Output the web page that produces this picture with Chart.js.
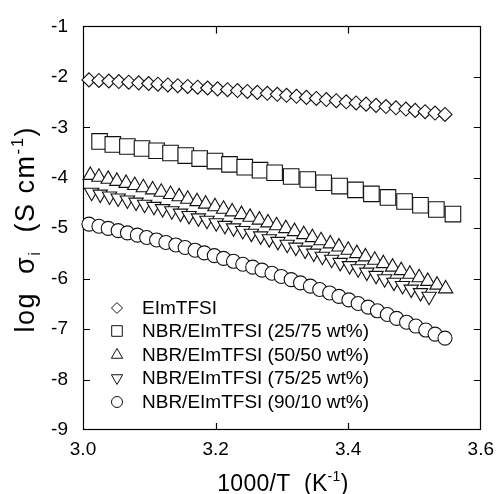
<!DOCTYPE html>
<html><head><meta charset="utf-8">
<script src="https://cdn.jsdelivr.net/npm/chart.js@4.4.0/dist/chart.umd.min.js"></script>
<style>html,body{margin:0;padding:0;background:#fff;}#wrap{width:502px;height:494px;}</style>
</head><body><div id="wrap"><canvas id="c" width="502" height="494" style="width:502px;height:494px"></canvas></div>
<script>
const seriesNames = ['EImTFSI','NBR/EImTFSI (25/75 wt%)','NBR/EImTFSI (50/50 wt%)','NBR/EImTFSI (75/25 wt%)','NBR/EImTFSI (90/10 wt%)'];
const xTickValues = [3.0, 3.2, 3.4, 3.6];
const yTickValues = [-9, -8, -7, -6, -5, -4, -3, -2, -1];

const xEImTFSI = [3.009,3.024,3.039,3.054,3.069,3.084,3.099,3.113,3.128,3.143,3.158,3.173,3.188,3.203,3.218,3.233,3.248,3.263,3.278,3.293,3.307,3.322,3.337,3.352,3.367,3.382,3.397,3.412,3.427,3.442,3.457,3.472,3.487,3.501,3.516,3.531,3.546];
const yEImTFSI = [-2.060,-2.071,-2.082,-2.094,-2.106,-2.119,-2.132,-2.146,-2.160,-2.175,-2.190,-2.205,-2.221,-2.238,-2.255,-2.272,-2.290,-2.308,-2.327,-2.346,-2.366,-2.386,-2.407,-2.428,-2.450,-2.472,-2.494,-2.517,-2.541,-2.565,-2.589,-2.614,-2.639,-2.665,-2.691,-2.718,-2.745];

const x2575 = [3.025,3.045,3.067,3.089,3.111,3.132,3.155,3.176,3.199,3.221,3.244,3.267,3.289,3.314,3.339,3.363,3.387,3.411,3.435,3.460,3.485,3.509,3.533,3.558];
const y2575 = [-3.28,-3.34,-3.38,-3.42,-3.465,-3.51,-3.56,-3.62,-3.67,-3.735,-3.79,-3.85,-3.90,-3.975,-4.035,-4.10,-4.165,-4.24,-4.32,-4.39,-4.47,-4.545,-4.63,-4.72];

const x5050 = [3.011,3.024,3.038,3.051,3.065,3.078,3.091,3.105,3.118,3.132,3.145,3.158,3.172,3.185,3.199,3.212,3.225,3.239,3.252,3.266,3.279,3.292,3.306,3.319,3.333,3.346,3.359,3.373,3.386,3.400,3.413,3.426,3.440,3.453,3.467,3.480,3.493,3.507,3.520,3.534,3.547];
const y5050 = [-3.950,-3.988,-4.028,-4.068,-4.109,-4.151,-4.194,-4.238,-4.283,-4.328,-4.375,-4.422,-4.471,-4.520,-4.571,-4.622,-4.674,-4.727,-4.781,-4.836,-4.892,-4.948,-5.006,-5.064,-5.124,-5.184,-5.246,-5.308,-5.371,-5.435,-5.500,-5.566,-5.632,-5.700,-5.769,-5.838,-5.909,-5.980,-6.052,-6.126,-6.200];

const x7525 = [3.013,3.026,3.040,3.053,3.067,3.080,3.093,3.107,3.120,3.134,3.147,3.160,3.174,3.187,3.201,3.214,3.227,3.241,3.254,3.268,3.281,3.294,3.308,3.321,3.335,3.348,3.361,3.375,3.388,3.402,3.415,3.428,3.442,3.455,3.469,3.482,3.495,3.509,3.522];
const y7525 = [-4.290,-4.327,-4.366,-4.405,-4.445,-4.486,-4.528,-4.570,-4.614,-4.658,-4.704,-4.750,-4.798,-4.846,-4.896,-4.946,-4.997,-5.049,-5.102,-5.156,-5.211,-5.265,-5.322,-5.379,-5.438,-5.497,-5.558,-5.619,-5.681,-5.744,-5.808,-5.873,-5.938,-6.005,-6.073,-6.140,-6.210,-6.280,-6.351];

const x9010 = [3.009,3.024,3.038,3.053,3.067,3.082,3.096,3.111,3.125,3.140,3.154,3.169,3.183,3.198,3.212,3.227,3.241,3.256,3.270,3.285,3.299,3.314,3.328,3.343,3.357,3.372,3.386,3.401,3.415,3.430,3.444,3.459,3.473,3.488,3.502,3.517,3.531,3.546];
const y9010 = [-4.920,-4.961,-5.004,-5.048,-5.092,-5.138,-5.185,-5.233,-5.282,-5.332,-5.383,-5.436,-5.489,-5.543,-5.599,-5.656,-5.714,-5.772,-5.832,-5.893,-5.956,-6.019,-6.083,-6.149,-6.215,-6.283,-6.351,-6.421,-6.492,-6.564,-6.637,-6.711,-6.787,-6.863,-6.940,-7.019,-7.099,-7.179];

const FONT = "'Liberation Sans', Arial, Helvetica, sans-serif";
Chart.defaults.font.family = FONT;
Chart.defaults.color = '#000';

function pts(xs, ys){ return xs.map((x,i)=>({x:x, y:ys[i]})); }

const markerDefs = [
  {style:'rectRot', rot:0, r:7, lr:5.5},
  {style:'rect', rot:0, r:11, lr:7.5},
  {style:'triangle', rot:0, r:8.3, lr:6.5},
  {style:'triangle', rot:180, r:8.3, lr:6.5},
  {style:'circle', rot:0, r:7, lr:5.5}
];
const dataX = [xEImTFSI, x2575, x5050, x7525, x9010];
const dataY = [yEImTFSI, y2575, y5050, y7525, y9010];

const datasets = seriesNames.map((name, i) => ({
  label: name,
  data: pts(dataX[i], dataY[i]),
  showLine: false,
  pointStyle: markerDefs[i].style,
  pointRotation: markerDefs[i].rot,
  pointRadius: markerDefs[i].r,
  pointHoverRadius: markerDefs[i].r,
  pointBackgroundColor: '#fff',
  pointBorderColor: '#111',
  pointBorderWidth: 1.1,
  clip: false
}));

function drawRich(ctx, parts, cx, baseY, spacing) {
  let total = 0;
  ctx.letterSpacing = (spacing || 0) + 'px';
  parts.forEach(p => { ctx.font = p.size + 'px ' + FONT; p.w = ctx.measureText(p.t).width; total += p.w; });
  let x = cx - total / 2;
  ctx.textAlign = 'left'; ctx.textBaseline = 'alphabetic';
  parts.forEach(p => { ctx.font = p.size + 'px ' + FONT; ctx.fillText(p.t, x, baseY + (p.dy || 0)); x += p.w; });
  ctx.letterSpacing = '0px';
}

const framePlugin = {
  id: 'frame',
  beforeDatasetsDraw(chart) {
    const ctx = chart.ctx, a = chart.chartArea;
    const xs = chart.scales.x, ys = chart.scales.y;
    ctx.save();
    ctx.strokeStyle = '#000'; ctx.lineWidth = 1.2;
    ctx.strokeRect(Math.round(a.left) + 0.5, Math.round(a.top) + 0.5, Math.round(a.right - a.left) - 1, Math.round(a.bottom - a.top) - 1);
    ctx.beginPath();
    const tl = 7;
    yTickValues.forEach(v => {
      if (v === -9 || v === -1) return;
      const py = Math.round(ys.getPixelForValue(v)) + 0.5;
      ctx.moveTo(a.left, py); ctx.lineTo(a.left + tl, py);
      ctx.moveTo(a.right - tl, py); ctx.lineTo(a.right, py);
    });
    xTickValues.forEach(v => {
      if (v === 3.0 || v === 3.6) return;
      const px = Math.round(xs.getPixelForValue(v)) + 0.5;
      ctx.moveTo(px, a.bottom); ctx.lineTo(px, a.bottom - tl);
      ctx.moveTo(px, a.top); ctx.lineTo(px, a.top + tl);
    });
    ctx.stroke();
    ctx.restore();
  },
  afterDraw(chart) {
    const ctx = chart.ctx, a = chart.chartArea;
    ctx.save();
    ctx.fillStyle = '#000';
    // x title
    drawRich(ctx, [
      {t:'1000/T  (K', size:23},
      {t:'-1', size:14, dy:-10},
      {t:')', size:23}
    ], (a.left + a.right) / 2 + 1, 491, 0.3);
    // y title
    ctx.save();
    ctx.translate(34, (a.top + a.bottom) / 2 + 1);
    ctx.rotate(-Math.PI / 2);
    drawRich(ctx, [
      {t:'log  \u03C3', size:27},
      {t:'i', size:17, dy:6},
      {t:'  (S cm', size:27},
      {t:'-1', size:17, dy:-11},
      {t:')', size:27}
    ], 0, 0, 1.5);
    ctx.restore();
    // legend
    const H = Chart.helpers;
    const rowsY = [308, 331, 355, 378, 402];
    seriesNames.forEach((name, i) => {
      const m = markerDefs[i];
      ctx.save();
      ctx.fillStyle = '#fff'; ctx.strokeStyle = '#111'; ctx.lineWidth = 1;
      H.drawPoint(ctx, {pointStyle: m.style, rotation: m.rot, radius: m.lr, borderWidth: 1}, 117, rowsY[i]);
      ctx.restore();
      ctx.font = '19px ' + FONT;
      ctx.textAlign = 'left'; ctx.textBaseline = 'middle';
      ctx.fillStyle = '#000';
      ctx.fillText(name, 142, rowsY[i] + 1);
    });
    ctx.restore();
  }
};

new Chart(document.getElementById('c'), {
  type: 'scatter',
  data: { datasets },
  options: {
    responsive: false,
    animation: false,
    events: [],
    layout: { padding: { top: 22, right: 17, left: 0, bottom: 0 } },
    plugins: { legend: { display: false }, tooltip: { enabled: false } },
    scales: {
      x: {
        type: 'linear', min: 3.0, max: 3.6,
        afterBuildTicks: s => { s.ticks = xTickValues.map(v => ({value: v})); },
        ticks: { font: { size: 19 }, color: '#000', padding: 8, maxRotation: 0, callback: v => Number(v).toFixed(1) },
        grid: { display: false, drawTicks: false },
        border: { display: false },
        afterFit: s => { s.height = 64; }
      },
      y: {
        type: 'linear', min: -9, max: -1,
        afterBuildTicks: s => { s.ticks = yTickValues.map(v => ({value: v})); },
        ticks: { font: { size: 19 }, color: '#000', padding: 15, callback: v => String(v) },
        grid: { display: false, drawTicks: false },
        border: { display: false },
        afterFit: s => { s.width = 83; }
      }
    }
  },
  plugins: [framePlugin]
});
</script>
</body></html>
